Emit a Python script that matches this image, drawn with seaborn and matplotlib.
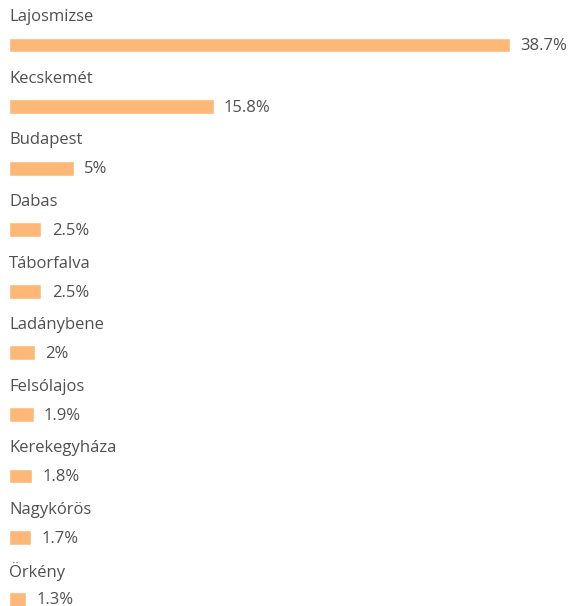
import pandas as pd
import matplotlib.pyplot as plt
import seaborn as sns

cities = ['Lajosmizse', 'Kecskemét', 'Budapest', 'Dabas', 'Táborfalva',
          'Ladánybene', 'Felsólajos', 'Kerekegyháza', 'Nagykórös', 'Örkény']
shares = [38.7, 15.8, 5, 2.5, 2.5, 2, 1.9, 1.8, 1.7, 1.3]
share_labels = ['38.7%', '15.8%', '5%', '2.5%', '2.5%', '2%', '1.9%', '1.8%', '1.7%', '1.3%']

df = pd.DataFrame({'city': cities, 'share': shares})

sns.set_style('white')
plt.rcParams['font.family'] = ['Open Sans', 'DejaVu Sans']

fig = plt.figure(figsize=(5.71, 6.06), dpi=100)
ax = fig.add_axes([0, 0, 1, 1])

sns.barplot(data=df, x='share', y='city', orient='h', color='#FDB878',
            width=0.24, saturation=1, ax=ax)

for i, (city, val, lab) in enumerate(zip(cities, shares, share_labels)):
    ax.text(0, i - 0.45, city, fontsize=12, color='#505050', va='center', ha='left')
    ax.text(val + 0.8, i + 0.02, lab, fontsize=12, color='#505050', va='center', ha='left')

ax.set_xlim(-0.695, 43.4)
ax.set_ylim(9.11, -0.73)
ax.set_axis_off()

fig.savefig('out.png', dpi=100)
